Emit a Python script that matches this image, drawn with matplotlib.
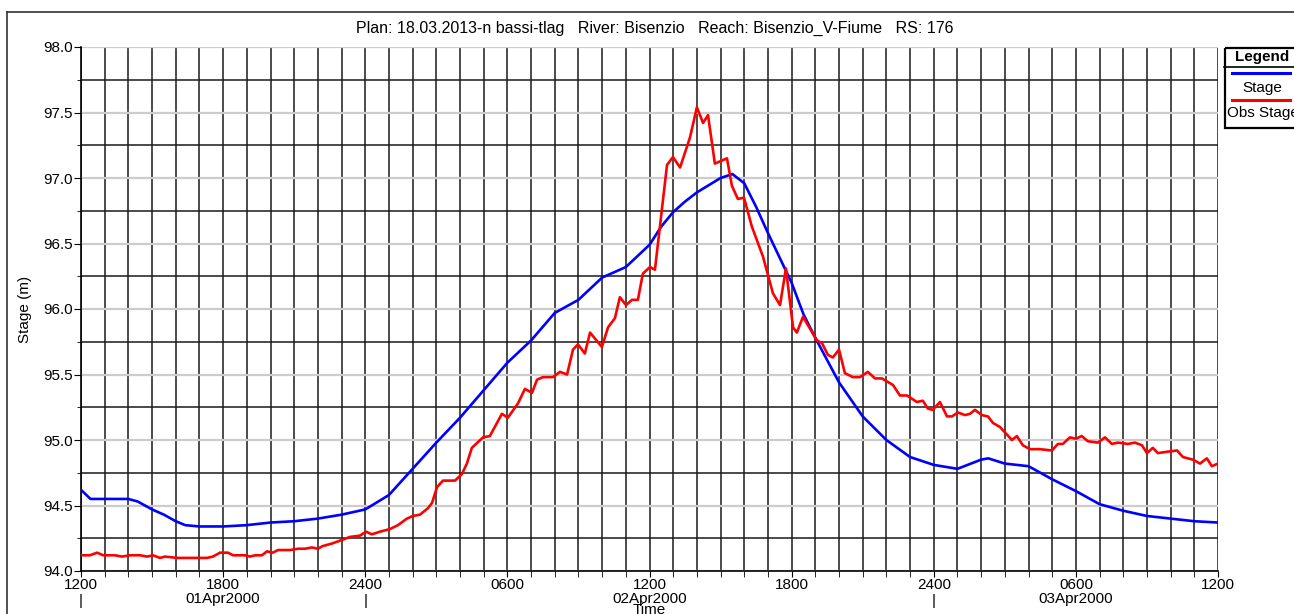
import matplotlib
matplotlib.use("Agg")
import matplotlib.pyplot as plt
from matplotlib.lines import Line2D
from matplotlib.patches import Rectangle

plt.rcParams['font.family'] = ['Liberation Sans', 'DejaVu Sans']

# hours after 31Mar2000 1200
sim_hours = [0, 0.4, 1, 2, 2.4, 3, 3.5, 4, 4.4, 5, 6, 7, 8, 9, 10, 11, 12, 13, 14, 15,
             16, 17, 18, 19, 20, 21, 22, 23, 24, 24.5, 25, 25.5, 26, 27, 27.5, 28, 28.5,
             29, 29.5, 30, 30.5, 31, 31.5, 32, 32.5, 33, 34, 35, 36, 37, 38, 38.3, 39,
             40, 41, 42, 43, 44, 45, 46, 47, 48]
sim_stage = [94.62, 94.55, 94.55, 94.55, 94.53, 94.47, 94.43, 94.38, 94.35, 94.34, 94.34,
             94.35, 94.37, 94.38, 94.40, 94.43, 94.47, 94.58, 94.78, 94.98, 95.17, 95.38,
             95.59, 95.76, 95.97, 96.07, 96.24, 96.32, 96.49, 96.63, 96.74, 96.82, 96.89,
             97.00, 97.03, 96.96, 96.78, 96.58, 96.39, 96.20, 95.96, 95.78, 95.61, 95.44,
             95.31, 95.18, 95.00, 94.87, 94.81, 94.78, 94.85, 94.86, 94.82, 94.80, 94.70,
             94.61, 94.51, 94.46, 94.42, 94.40, 94.38, 94.37]

obs_hours = [0, 0.38, 0.68, 0.93, 1.44, 1.73, 2.07, 2.49, 2.79, 3.04, 3.33, 3.55, 4.05,
             4.6, 5.32, 5.57, 5.87, 6.2, 6.42, 6.92, 7.13, 7.35, 7.64, 7.85, 8.1, 8.32,
             8.82, 9.16, 9.46, 9.75, 10.0, 10.2, 10.6, 11.06, 11.35, 11.78, 12.03, 12.28,
             12.62, 13.04, 13.38, 13.76, 14.01, 14.31, 14.65, 14.82, 15.03, 15.28, 15.79,
             16.08, 16.29, 16.5, 16.97, 17.26, 17.56, 17.77, 18.02, 18.45, 18.74, 19.04,
             19.25, 19.5, 19.92, 20.22, 20.52, 20.77, 20.98, 21.27, 21.49, 21.99, 22.25,
             22.54, 22.75, 23.01, 23.26, 23.51, 23.72, 24.02, 24.23, 24.74, 24.99, 25.29,
             25.71, 26.0, 26.26, 26.47, 26.76, 27.27, 27.48, 27.73, 27.99, 28.32, 28.79,
             29.21, 29.51, 29.76, 30.06, 30.22, 30.48, 31.07, 31.28, 31.53, 31.74, 32.0,
             32.25, 32.59, 32.88, 33.22, 33.52, 33.81, 34.28, 34.57, 34.87, 35.29, 35.54,
             35.75, 35.96, 36.26, 36.56, 36.77, 37.02, 37.32, 37.53, 37.74, 38.03, 38.29,
             38.5, 38.79, 39.3, 39.51, 39.76, 40.06, 40.48, 40.99, 41.24, 41.45, 41.75,
             42.0, 42.25, 42.51, 42.93, 43.23, 43.52, 43.77, 44.2, 44.49, 44.79, 45.0,
             45.25, 45.46, 45.84, 46.27, 46.52, 46.94, 47.24, 47.53, 47.74, 48.0]
obs_stage = [94.12, 94.12, 94.14, 94.12, 94.12, 94.11, 94.12, 94.12, 94.11, 94.12, 94.10,
             94.11, 94.10, 94.10, 94.10, 94.11, 94.14, 94.14, 94.12, 94.12, 94.11, 94.12,
             94.12, 94.15, 94.14, 94.16, 94.16, 94.17, 94.17, 94.18, 94.17, 94.19, 94.21,
             94.24, 94.26, 94.27, 94.30, 94.28, 94.30, 94.32, 94.35, 94.40, 94.42, 94.43,
             94.48, 94.52, 94.64, 94.69, 94.69, 94.74, 94.82, 94.94, 95.02, 95.03, 95.13,
             95.20, 95.17, 95.28, 95.39, 95.36, 95.46, 95.48, 95.48, 95.52, 95.50, 95.69,
             95.73, 95.66, 95.82, 95.71, 95.86, 95.93, 96.09, 96.03, 96.07, 96.07, 96.27,
             96.32, 96.30, 97.10, 97.16, 97.08, 97.31, 97.54, 97.42, 97.48, 97.11, 97.15,
             96.94, 96.84, 96.85, 96.63, 96.40, 96.12, 96.03, 96.31, 95.86, 95.82, 95.94,
             95.76, 95.74, 95.65, 95.63, 95.69, 95.51, 95.48, 95.48, 95.52, 95.47, 95.47,
             95.42, 95.34, 95.34, 95.29, 95.30, 95.24, 95.23, 95.29, 95.18, 95.18, 95.21,
             95.19, 95.20, 95.23, 95.19, 95.18, 95.13, 95.10, 95.00, 95.03, 94.96, 94.93,
             94.93, 94.92, 94.97, 94.97, 95.02, 95.01, 95.03, 94.99, 94.98, 95.02, 94.97,
             94.98, 94.97, 94.98, 94.96, 94.90, 94.94, 94.90, 94.91, 94.92, 94.87, 94.85,
             94.82, 94.86, 94.80, 94.82]

tick_hours = [0, 6, 12, 18, 24, 30, 36, 42, 48]
tick_labels = ['1200', '1800', '2400', '0600', '1200', '1800', '2400', '0600', '1200']
date_hours = [6, 24, 42]
date_labels = ['01Apr2000', '02Apr2000', '03Apr2000']
day_marks = [0, 12, 36]

title = ('Plan: 18.03.2013-n bassi-tlag   River: Bisenzio   '
         'Reach: Bisenzio_V-Fiume   RS: 176')

W, H = 1294, 614
fig = plt.figure(figsize=(W / 100, H / 100), dpi=100)
ax = fig.add_axes([81 / W, (H - 571) / H, (1218 - 81) / W, (571 - 47) / H])

# grid
ax.set_xlim(0, 48)
ax.set_ylim(94.0, 98.0)
ax.set_xticks(tick_hours)
ax.set_xticklabels(tick_labels)
ax.set_xticks(range(0, 49), minor=True)
ax.set_yticks([94.0 + 0.5 * i for i in range(9)])
ax.set_yticklabels(['%.1f' % (94.0 + 0.5 * i) for i in range(9)])
ax.set_yticks([94.25 + 0.5 * i for i in range(8)], minor=True)
ax.grid(True, which='both', axis='x', color='#1a1a1a', lw=1.1)
ax.grid(True, which='major', axis='y', color='#cccccc', lw=1.6)
ax.grid(True, which='minor', axis='y', color='#1a1a1a', lw=1.1)
ax.set_axisbelow(True)
for s in ['top', 'right']:
    ax.spines[s].set_visible(False)
for s in ['left', 'bottom']:
    ax.spines[s].set_color('black')
    ax.spines[s].set_linewidth(1.2)
ax.tick_params(axis='both', which='both', direction='out', labelsize=11, color='black')
ax.tick_params(axis='y', which='major', length=5, pad=1)
ax.tick_params(axis='y', which='minor', length=3)
ax.tick_params(axis='x', which='both', length=4, pad=1)

ax.plot(sim_hours, sim_stage, color='#0000ff', lw=1.9, zorder=3)
ax.plot(obs_hours, obs_stage, color='#ff0000', lw=1.9, zorder=3)

tr = ax.get_xaxis_transform()
for h, lab in zip(date_hours, date_labels):
    ax.text(h, -0.054, lab, transform=tr, ha='center', va='center', fontsize=11)
for h in day_marks:
    ax.text(h, -0.058, '|', transform=tr, ha='center', va='center', fontsize=11)
ax.text(24, -0.075, 'Time', transform=tr, ha='center', va='center', fontsize=11)
ax.set_ylabel('Stage (m)', fontsize=11, labelpad=8)

fig.text(655 / W, 1 - 28 / H, title, ha='center', va='center', fontsize=11.5)

# outer frame
fig.add_artist(Line2D([7 / W, 7 / W], [0, 1 - 12 / H], color='#333333', lw=1.2))
fig.add_artist(Line2D([7 / W, 1], [1 - 12 / H, 1 - 12 / H], color='#333333', lw=1.2))

# legend box
lg = fig.add_axes([1224 / W, (H - 128) / H, 80 / W, 81 / H])
lg.set_xlim(0, 80)
lg.set_ylim(81, 0)
lg.axis('off')
lg.add_patch(Rectangle((0.5, 0.5), 90, 80, fill=False, ec='black', lw=1.6, clip_on=False))
lg.plot([0, 90], [20, 20], color='black', lw=1.2, clip_on=False)
lg.text(38, 10, 'Legend', ha='center', va='center', fontsize=11, fontweight='bold')
lg.plot([8, 66], [26, 26], color='#0000ff', lw=2.2, clip_on=False)
lg.text(38, 41, 'Stage', ha='center', va='center', fontsize=11)
lg.plot([8, 66], [53, 53], color='#ff0000', lw=2.2, clip_on=False)
lg.text(3, 66, 'Obs Stage', ha='left', va='center', fontsize=11)

fig.savefig('out.png', dpi=100)
